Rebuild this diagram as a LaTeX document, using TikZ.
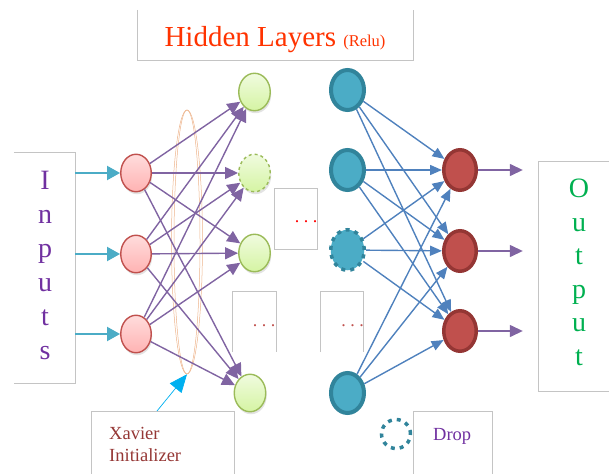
\documentclass[tikz,border=0pt]{standalone}
\usepackage{fontspec}
\setmainfont{Liberation Serif}
\usepackage{xcolor}
\definecolor{colorInText}{HTML}{7030A0}
\definecolor{colorOutText}{HTML}{00B050}
\definecolor{colorTitle}{HTML}{FF3300}
\definecolor{colorInArrow}{HTML}{4BACC6}
\definecolor{colorHidArrow}{HTML}{8064A2}
\definecolor{colorOutEdge}{HTML}{4F81BD}
\definecolor{colorXavier}{HTML}{00B0F0}
\definecolor{colorXavierText}{HTML}{953735}
\definecolor{colorInit}{HTML}{EDB48C}
\definecolor{colorPinkBorder}{HTML}{C0504D}
\definecolor{colorPinkTop}{HTML}{FFDCDC}
\definecolor{colorPinkBottom}{HTML}{FFB3B3}
\definecolor{colorGreenBorder}{HTML}{9BBB59}
\definecolor{colorGreenTop}{HTML}{F0FBDF}
\definecolor{colorGreenBottom}{HTML}{D5F4A3}
\definecolor{colorTealBorder}{HTML}{31849B}
\definecolor{colorRedBorder}{HTML}{943634}
\definecolor{colorBoxLine}{HTML}{C4C4C4}
\colorlet{colorTeal}{colorInArrow}
\colorlet{colorRed}{colorPinkBorder}
\colorlet{colorDotsA}{red}
\colorlet{colorDots}{colorPinkBorder}
\usepackage{tikz}
\usetikzlibrary{arrows.meta, positioning, shapes.geometric, shadows}

\begin{document}
\begin{tikzpicture}[x=1pt, y=-1pt, >={Triangle[length=13pt, width=12pt]},
  nshadow/.style={drop shadow={shadow xshift=1pt, shadow yshift=-2.5pt, opacity=0.22}},
  inneuron/.style={shape=ellipse, draw=colorPinkBorder, line width=1.4pt, top color=colorPinkTop, bottom color=colorPinkBottom, minimum width=30.5pt, minimum height=37.5pt, inner sep=0pt, nshadow},
  hidneuron/.style={shape=ellipse, draw=colorGreenBorder, line width=1.4pt, top color=colorGreenTop, bottom color=colorGreenBottom, minimum width=31.5pt, minimum height=37.5pt, inner sep=0pt, nshadow},
  tealneuron/.style={shape=ellipse, draw=colorTealBorder, line width=4pt, fill=colorTeal, minimum width=33pt, minimum height=40pt, inner sep=0pt},
  outneuron/.style={shape=ellipse, draw=colorRedBorder, line width=3.5pt, fill=colorRed, minimum width=32.5pt, minimum height=40.5pt, inner sep=0pt},
  dropped/.style={draw=colorTealBorder, line width=3.5pt, dash pattern=on 4pt off 5pt},
  boxnode/.style={inner sep=0pt, minimum width=#1},
  boxline/.style={draw=colorBoxLine, line width=0.8pt},
  stacked/.style={align=center, inner sep=0pt, font=\fontsize{28}{34}\selectfont},
  inarrow/.style={->, colorInArrow, line width=2pt, >={Triangle[length=13pt, width=14pt]}},
  hidarrow/.style={->, colorHidArrow, line width=1.4pt},
  outedge/.style={->, colorOutEdge, line width=1.4pt, >={Triangle[length=12pt, width=10pt]}},
  outarrow/.style={->, colorHidArrow, line width=1.4pt, >={Triangle[length=13pt, width=12pt]}},
  initring/.style={shape=ellipse, draw=colorInit, line width=0.5pt, minimum height=264pt, inner sep=0pt},
  dots/.style={anchor=base, inner sep=0pt, font=\fontsize{18}{20}\selectfont}]
\useasboundingbox (0,0) rectangle (609,473);

\node[boxnode=275pt, minimum height=50pt] (titlebox) at (275.5,35) {};
\node[anchor=base, inner sep=0pt, text=colorTitle, font=\fontsize{29}{34}\selectfont] (title) at (275,46.5) {Hidden Layers\ {\fontsize{16.5}{20}\selectfont(Relu)}};

\node[boxnode=61pt, minimum height=230pt] (inbox) at (44.5,268) {};
\node[stacked, anchor=north, text=colorInText] (intext) at (45,170.5) {I\\n\\p\\u\\t\\s};
\node[boxnode=80pt, minimum height=229pt] (outbox) at (579,276.5) {};
\node[stacked, anchor=north, text=colorOutText, font=\fontsize{28}{33.5}\selectfont] (outtext) at (579,179) {O\\u\\t\\p\\u\\t};

\node[boxnode=43pt, minimum height=61pt, draw=colorBoxLine, line width=0.8pt] (boxA) at (295.5,218.5) {};
\node[boxnode=43pt, minimum height=60pt] (boxB) at (254.5,322) {};
\node[boxnode=42pt, minimum height=60pt] (boxC) at (342,322) {};
\node[dots, text=colorDotsA] (dotsA) at (306,222) {.\ .\ .};
\node[dots, text=colorDots] (dotsB) at (264,326) {.\ .\ .};
\node[dots, text=colorDots] (dotsC) at (352.5,326) {.\ .\ .};

\node[boxnode=142pt, minimum height=68pt] (xbox) at (163,446) {};
\node[anchor=north west, align=left, inner sep=0pt, text=colorXavierText, font=\fontsize{18.5}{22}\selectfont] (xtext) at (109,427) {Xavier\\Initializer};
\node[boxnode=78pt, minimum height=68pt] (dropbox) at (453,446) {};
\node[anchor=base west, inner sep=0pt, text=colorInText, font=\fontsize{18.5}{22}\selectfont] (droptext) at (433,440) {Drop};
\node[circle, dropped, minimum size=29pt, inner sep=0pt] (droplegend) at (396,434) {};

\node[initring, minimum width=31pt] (xav) at (187,242) {};
\node[initring, minimum width=26pt] (xavin) at (187,242) {};

\node[inneuron] (p1) at (136,173) {};
\node[inneuron] (p2) at (136,254) {};
\node[inneuron] (p3) at (136,334) {};

\node[hidneuron] (g1) at (254.5,92) {};
\node[hidneuron, dashed] (g2) at (254.5,173) {};
\node[hidneuron] (g3) at (254.5,253) {};
\node[hidneuron] (g4) at (250,393) {};

\node[tealneuron] (t1) at (347.5,90) {};
\node[tealneuron] (t2) at (347.5,170) {};
\node[tealneuron, dropped, fill=colorTeal, minimum width=33.5pt, minimum height=40.5pt] (t3) at (347.5,250) {};
\node[tealneuron] (t4) at (347.5,393) {};

\node[outneuron] (r1) at (460,170) {};
\node[outneuron] (r2) at (460,251) {};
\node[outneuron] (r3) at (460,331) {};

\draw[boxline] (titlebox.north west) |- (titlebox.south east) -- (titlebox.north east);
\draw[boxline] (inbox.north west) -| (inbox.south east) -- (inbox.south west);
\draw[boxline] (outbox.north east) -| (outbox.south west) -- (outbox.south east);
\draw[boxline] (boxB.south west) |- (boxB.north east) -- (boxB.south east);
\draw[boxline] (boxC.south west) |- (boxC.north east) -- (boxC.south east);
\draw[boxline] (xbox.south west) |- (xbox.north east) -- (xbox.south east);
\draw[boxline] (dropbox.south west) |- (dropbox.north east) -- (dropbox.south east);

\draw[inarrow] (inbox.east |- p1) -- (p1);
\draw[inarrow] (inbox.east |- p2) -- (p2);
\draw[inarrow] (inbox.east |- p3) -- (p3);

\draw[hidarrow] (p1) edge (g1) edge (g2) edge (g3) edge (g4);
\draw[hidarrow] (p2) edge (g1) edge (g2) edge (g3) edge (g4);
\draw[hidarrow] (p3) edge (g1) edge (g2) edge (g3) edge (g4);

\draw[outedge] (t1) edge (r1) edge (r2) edge (r3);
\draw[outedge] (t2) edge (r1) edge (r2) edge (r3);
\draw[outedge] (t3) edge (r1) edge (r2) edge (r3);
\draw[outedge] (t4) edge (r1) edge (r2) edge (r3);

\draw[outarrow, shorten >=16pt] (r1) -- (outbox.west |- r1);
\draw[outarrow, shorten >=16pt] (r2) -- (outbox.west |- r2);
\draw[outarrow, shorten >=16pt] (r3) -- (outbox.west |- r3);

\coordinate (xtail) at (157,411);
\draw[colorXavier, line width=0.7pt, -{Triangle[length=18pt, width=15pt]}] (xtail) -- (xav.south);
\end{tikzpicture}
\end{document}
